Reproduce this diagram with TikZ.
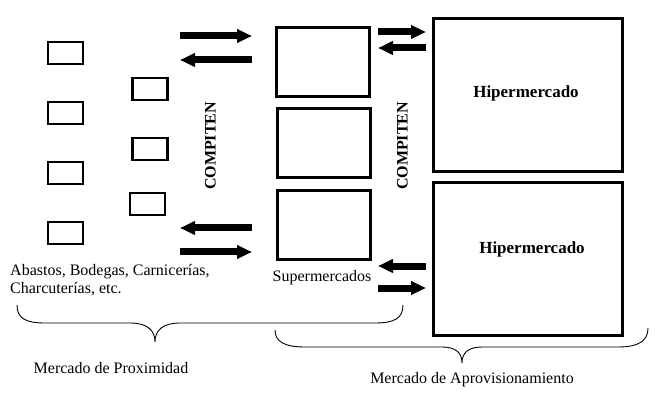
\documentclass[tikz,border=0pt]{standalone}
\usepackage{fontspec}
\setmainfont{Liberation Serif}
\usetikzlibrary{arrows.meta}

\begin{document}
\begin{tikzpicture}[x=1pt, y=-1pt,
    every node/.style={font=\fontsize{16}{18}\selectfont},
    caja/.style={draw, line width=2.4pt, minimum width=35pt, minimum height=22pt, inner sep=0pt},
    super/.style={draw, line width=2.6pt, minimum width=93.5pt, minimum height=69.5pt, inner sep=0pt},
    hiper/.style={draw, line width=3pt, minimum width=189pt, minimum height=153pt, inner sep=0pt},
    hipertexto/.style={font=\fontsize{17}{20}\selectfont\bfseries},
    compiten/.style={rotate=90, font=\fontsize{16}{18}\selectfont\bfseries},
    flecha/.style={line width=7pt, -{Triangle[length=15pt, width=13pt]}},
    llave/.style={line width=0.9pt}]

    \useasboundingbox (0,0) rectangle (660,411);

    % Tiendas
    \node[caja] (t1) at (65.5,53) {};
    \node[caja] (t2) at (65.5,113) {};
    \node[caja] (t3) at (65.5,173) {};
    \node[caja] (t4) at (65.5,233) {};
    \node[caja] (t5) at (150,89) {};
    \node[caja] (t6) at (150,149) {};
    \node[caja] (t7) at (147.5,204) {};
    \node[align=left, anchor=west, inner sep=0pt] (tiendas) at (10,280) {Abastos, Bodegas, Carnicerías,\\Charcuterías, etc.};

    % Supermercados
    \node[super] (s1) at (323,62) {};
    \node[super] (s2) at (324,143) {};
    \node[super] (s3) at (324,225) {};
    \node (supers) at (322,278) {Supermercados};

    % Hipermercados
    \node[hiper, label={[hipertexto, shift={(-2,-2)}]center:Hipermercado}] (h1) at (528,95) {};
    \node[hiper, label={[hipertexto, shift={(4,-10)}]center:Hipermercado}] (h2) at (528,259) {};

    % Compiten
    \node[compiten] (c1) at (210.5,146) {COMPITEN};
    \node[compiten] (c2) at (402.5,146) {COMPITEN};

    % Arrows
    \coordinate (a1) at (180,36);  \coordinate (b1) at (252,36);
    \coordinate (a2) at (180,60);  \coordinate (b2) at (252,60);
    \coordinate (a3) at (180,228); \coordinate (b3) at (252,228);
    \coordinate (a4) at (180,252); \coordinate (b4) at (252,252);
    \coordinate (a5) at (378,32);  \coordinate (b5) at (426,32);
    \coordinate (a6) at (378,48);  \coordinate (b6) at (426,48);
    \coordinate (a7) at (378,266); \coordinate (b7) at (426,266);
    \coordinate (a8) at (378,288); \coordinate (b8) at (426,288);
    \draw[flecha] (a1) -- (b1);
    \draw[flecha] (b2) -- (a2);
    \draw[flecha] (b3) -- (a3);
    \draw[flecha] (a4) -- (b4);
    \draw[flecha] (a5) -- (b5);
    \draw[flecha] (b6) -- (a6);
    \draw[flecha] (b7) -- (a7);
    \draw[flecha] (a8) -- (b8);

    % Braces
    \draw[llave] (17,305) .. controls (17,318) and (25,323) .. (45,323) -- (130,323)
        .. controls (147,323) and (155,330) .. (155,342)
        .. controls (155,330) and (163,323) .. (180,323) -- (375,323)
        .. controls (395,323) and (403,318) .. (403,305);
    \draw[llave] (275,330) .. controls (275,342) and (285,347) .. (305,347) -- (442,347)
        .. controls (456,347) and (462,353) .. (462,363)
        .. controls (462,353) and (468,347) .. (482,347) -- (618,347)
        .. controls (640,347) and (648,340) .. (648,328);
    \node (proximidad) at (111,368) {Mercado de Proximidad};
    \node (aprovisionamiento) at (472,380) {Mercado de Aprovisionamiento};

\end{tikzpicture}
\end{document}
